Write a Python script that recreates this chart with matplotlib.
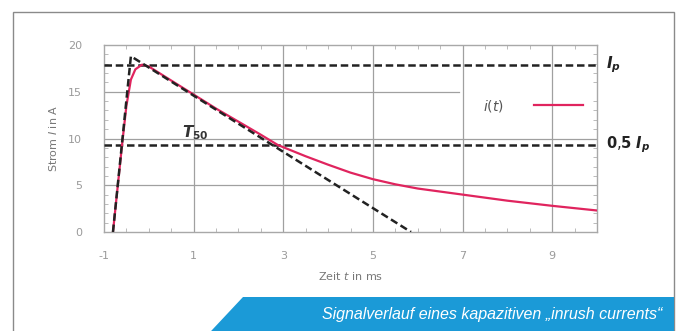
import matplotlib
matplotlib.use("Agg")
import matplotlib.pyplot as plt
from matplotlib.patches import Rectangle, Polygon
from matplotlib.lines import Line2D

# ---- data ----
t_curve = [-0.8, -0.7, -0.6, -0.5, -0.4, -0.3, -0.15, 0.0, 0.5, 1.0, 1.5, 2.0, 2.5, 2.88,
           3.5, 4.0, 4.5, 5.0, 5.5, 6.0, 7.0, 8.0, 9.0, 10.0]
i_curve = [0.0, 4.6, 9.2, 13.5, 16.3, 17.4, 17.9, 17.7, 16.2, 14.7, 13.2, 11.8, 10.4, 9.3,
           8.1, 7.2, 6.35, 5.65, 5.1, 4.65, 4.0, 3.35, 2.8, 2.3]
t_tangent = [-0.8, -0.40, 5.85]
i_tangent = [0.0, 18.8, 0.0]
ip_value = 17.85
half_ip_value = 9.3
x_ticks = [-1, 1, 3, 5, 7, 9]
y_ticks = [0, 5, 10, 15, 20]
caption = "Signalverlauf eines kapazitiven \u201einrush currents\u201c"

W, H = 677, 331
fig = plt.figure(figsize=(W / 100, H / 100), dpi=100)
fig.patch.set_facecolor("white")

# outer frame
fig.patches.append(Rectangle((13 / W, -0.01), (674 - 13) / W, 1 - 12 / H + 0.01,
                             transform=fig.transFigure, fill=False,
                             edgecolor="#8a8a8a", linewidth=1.0, zorder=0))

ax = fig.add_axes([104 / W, 1 - 232 / H, (597 - 104) / W, (232 - 45) / H])
ax.set_xlim(-1, 10)
ax.set_ylim(0, 20)

grid_c = "#a0a0a0"
ax.axhline(5, color=grid_c, lw=0.9, zorder=1)
ax.axhline(10, color=grid_c, lw=0.9, zorder=1)
ax.axhline(15, xmax=0.72, color=grid_c, lw=0.9, zorder=1)
for xv in [1, 3, 5, 7, 9]:
    ax.axvline(xv, color=grid_c, lw=0.9, zorder=1)

for s in ax.spines.values():
    s.set_color("#a8a8a8")
    s.set_linewidth(1.0)

ax.set_xticks(x_ticks)
ax.set_yticks(y_ticks)
ax.set_xticklabels([str(v) for v in x_ticks])
ax.set_yticklabels([str(v) for v in y_ticks])
ax.tick_params(axis="x", length=0, labelsize=8, labelcolor="#9a9a9a", pad=14)
ax.tick_params(axis="y", length=0, labelsize=8, labelcolor="#9a9a9a", pad=16)
ax.set_yticks(range(0, 21), minor=True)
ax.set_xticks([v * 0.5 - 1 for v in range(0, 23)], minor=True)
ax.tick_params(which="minor", direction="in", length=3, color="#b0b0b0", top=True, right=True)

ax.set_xlabel("Zeit $t$ in ms", fontsize=8, color="#777777", labelpad=6)
ax.set_ylabel("Strom $I$ in A", fontsize=8, color="#777777", labelpad=6)

# reference lines
ax.axhline(ip_value, color="#222222", lw=1.8, ls=(0, (3, 1.5)), zorder=3)
ax.axhline(half_ip_value, color="#222222", lw=1.8, ls=(0, (3, 1.5)), zorder=3)

# curve and tangent triangle
ax.plot(t_curve, i_curve, color="#e0245e", lw=1.6, zorder=4)
ax.plot(t_tangent, i_tangent, color="#222222", lw=1.8, ls=(0, (3, 1.5)), zorder=5)

# legend
leg = ax.legend(handles=[Line2D([], [], color="#e0245e", lw=1.6)],
                labels=["$i(t)$"], markerfirst=False, frameon=False,
                loc="center", bbox_to_anchor=(0.87, 0.675), fontsize=10,
                handlelength=3.5, handletextpad=2.2, borderpad=0.9)
for txt in leg.get_texts():
    txt.set_color("#555555")

# annotations
ax.text(0.75, 10.6, r"$\boldsymbol{T}_{\mathbf{50}}$", fontsize=11, color="#333333",
        ha="left", va="center")
ax.text(10.2, ip_value, r"$\boldsymbol{I}_{\boldsymbol{p}}$", fontsize=11, color="#222222",
        ha="left", va="center", clip_on=False)
ax.text(10.2, half_ip_value, r"$\boldsymbol{0{,}5\ I}_{\boldsymbol{p}}$", fontsize=10.5,
        color="#222222", ha="left", va="center", clip_on=False)

# caption band
band = Polygon([(208 / W, -0.01), (243 / W, 1 - 297 / H), (674 / W, 1 - 297 / H),
                (674 / W, -0.01)], closed=True, transform=fig.transFigure,
               facecolor="#1b9ad7", edgecolor="none", zorder=5)
fig.patches.append(band)
fig.text(662 / W, 1 - 314 / H, caption, transform=fig.transFigure, ha="right",
         va="center", color="white", fontsize=11.5, style="italic",
         family="Liberation Sans", zorder=6)

fig.savefig("out.png", dpi=100)
